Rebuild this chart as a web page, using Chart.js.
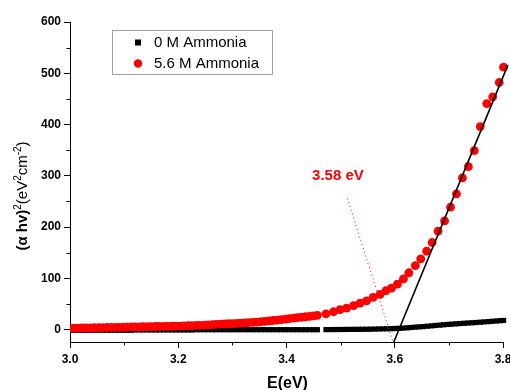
<!DOCTYPE html>
<html>
<head>
<meta charset="utf-8">
<script src="https://cdn.jsdelivr.net/npm/chart.js@4/dist/chart.umd.min.js"></script>
<style>
html,body{margin:0;padding:0;background:#fff;}
#c{display:block;}
</style>
</head>
<body>
<canvas id="c" width="510" height="390"></canvas>
<script>
// Photon energy (eV) for 5.6 M Ammonia
const E_RED = [
  3.000,3.008,3.015,3.023,3.030,3.038,3.045,3.053,3.060,3.068,
  3.075,3.083,3.090,3.098,3.105,3.113,3.120,3.128,3.135,3.143,
  3.150,3.158,3.165,3.173,3.180,3.188,3.195,3.203,3.210,3.218,
  3.225,3.233,3.240,3.248,3.255,3.263,3.270,3.278,3.285,3.293,
  3.300,3.308,3.315,3.323,3.330,3.338,3.345,3.353,3.360,3.368,
  3.375,3.383,3.390,3.398,3.405,3.413,3.420,3.428,3.435,3.443,
  3.450,3.457,
  3.473,3.487,3.499,3.511,3.524,3.536,3.548,3.560,3.573,3.584,
  3.594,3.605,3.616,3.626,3.638,3.648,3.659,3.669,3.680,3.692,
  3.703,3.714,3.725,3.736,3.747,3.758,3.770,3.781,3.793,3.801
];
// (alpha h nu)^2 for 5.6 M Ammonia
const RED = [
  3.0,3.1,3.2,3.4,3.5,3.7,3.8,4.0,4.1,4.3,
  4.4,4.6,4.7,4.9,5.1,5.3,5.4,5.6,5.7,5.9,
  6.0,6.2,6.3,6.5,6.6,6.8,6.9,7.1,7.4,7.7,
  8.0,8.3,8.6,8.9,9.3,9.8,10.2,10.7,11.1,11.6,
  12.0,12.5,12.9,13.4,13.8,14.3,14.8,15.5,16.2,17.0,
  17.9,18.8,19.8,20.7,21.6,22.6,23.4,24.3,25.2,26.1,
  27.0,28.0,
  31,35,39,42,47,52,56,63,69,76,
  81,89,99,111,125,138,153,170,192,212,
  239,265,296,318,349,396,441,454,482,512
];
// Photon energy (eV) for 0 M Ammonia
const E_BLACK = [
  3.000,3.008,3.015,3.023,3.030,3.038,3.045,3.053,3.060,3.068,
  3.075,3.083,3.090,3.098,3.105,3.113,3.120,3.128,3.135,3.143,
  3.150,3.158,3.165,3.173,3.180,3.188,3.195,3.203,3.210,3.218,
  3.225,3.233,3.240,3.248,3.255,3.263,3.270,3.278,3.285,3.293,
  3.300,3.308,3.315,3.323,3.330,3.338,3.345,3.353,3.360,3.368,
  3.375,3.383,3.390,3.398,3.405,3.413,3.420,3.428,3.435,3.443,
  3.450,3.457,
  3.473,3.480,3.488,3.495,3.503,3.510,3.518,3.525,3.533,3.540,
  3.548,3.555,3.563,3.570,3.578,3.585,3.593,3.600,3.608,3.615,
  3.623,3.630,3.638,3.645,3.653,3.660,3.668,3.675,3.683,3.690,
  3.698,3.705,3.713,3.720,3.728,3.735,3.743,3.750,3.758,3.765,
  3.773,3.780,3.788,3.795,3.801
];
// (alpha h nu)^2 for 0 M Ammonia
const BLACK = [
  -1,-1,-1,-1,-1,-1,-1,-1,-1,-1,
  -1,-1,-1,-1,-1,-1,-0.5,-0.5,-0.5,-0.5,
  -0.5,-0.5,-0.5,-0.5,-0.5,-0.5,-0.5,-0.5,-0.5,-0.5,
  -0.5,0,0,0,0,0,0,0,0,0,
  0,0,0,0,0,0,0,0,0,0,
  0,0,0,0,0,0,0,0,0,0,
  0,0,
  0.2,0.25,0.3,0.35,0.4,0.5,0.55,0.6,0.7,0.8,
  0.9,1.0,1.2,1.4,1.6,1.8,2.0,2.3,2.7,3.1,
  3.7,4.3,5.0,5.5,6.1,6.8,7.5,8.2,8.9,9.6,
  10.2,10.8,11.4,12.0,12.5,13.0,13.5,14.0,14.6,15.2,
  15.8,16.4,17.0,17.6,18.0
];
const SERIES_LABELS = ["0 M Ammonia", "5.6 M Ammonia"];
// Linear fit (Tauc extrapolation) end points
const FIT_X = [3.5975, 3.809];
const FIT_Y = [-26, 516];
// Dotted pointer from label to axis
const POINTER_X = [3.5125, 3.5975];
const POINTER_Y = [256, -26];
const ANNOT_TEXT = "3.58 eV";
const ANNOT_POS = [3.495, 300];
const X_TICKS = [3.0, 3.2, 3.4, 3.6, 3.8];
const X_MINOR = [3.1, 3.3, 3.5, 3.7];
const Y_TICKS = [0, 100, 200, 300, 400, 500, 600];
const Y_MINOR = [50, 150, 250, 350, 450, 550];

const FONT = "'Liberation Sans', Arial, sans-serif";

const pts = (xs, ys) => xs.map((x, i) => ({x: x, y: ys[i]}));

const extras = {
  id: 'extras',
  afterDraw(chart) {
    const ctx = chart.ctx;
    const xs = chart.scales.x, ys = chart.scales.y;
    const ca = chart.chartArea;
    ctx.save();
    // minor ticks
    ctx.strokeStyle = '#000';
    ctx.lineWidth = 1;
    ctx.beginPath();
    Y_MINOR.forEach(v => {
      const py = Math.round(ys.getPixelForValue(v)) + 0.5;
      ctx.moveTo(ca.left - 3.5, py);
      ctx.lineTo(ca.left, py);
    });
    X_MINOR.forEach(v => {
      const px = Math.round(xs.getPixelForValue(v)) + 0.5;
      ctx.moveTo(px, ca.bottom);
      ctx.lineTo(px, ca.bottom + 3.5);
    });
    ctx.stroke();

    // annotation label
    ctx.fillStyle = '#ff0000';
    ctx.font = "bold 15px " + FONT;
    ctx.textAlign = 'center';
    ctx.textBaseline = 'middle';
    ctx.fillText(ANNOT_TEXT, xs.getPixelForValue(ANNOT_POS[0]), ys.getPixelForValue(ANNOT_POS[1]));

    // x title
    ctx.fillStyle = '#000';
    ctx.font = "bold 16px " + FONT;
    ctx.fillText("E(eV)", 287.5, 383.5);

    // y title with mixed weights and superscripts
    const parts = [
      {t: "(\u03B1 hv)", f: "bold 15px " + FONT, dy: 0},
      {t: "2", f: "10px " + FONT, dy: -6},
      {t: "(eV", f: "15px " + FONT, dy: 0},
      {t: "2", f: "10px " + FONT, dy: -6},
      {t: "cm", f: "15px " + FONT, dy: 0},
      {t: "-2", f: "10px " + FONT, dy: -6},
      {t: ")", f: "15px " + FONT, dy: 0}
    ];
    let total = 0;
    parts.forEach(p => { ctx.font = p.f; p.w = ctx.measureText(p.t).width; total += p.w; });
    ctx.translate(27, 196);
    ctx.rotate(-Math.PI / 2);
    ctx.textAlign = 'left';
    ctx.textBaseline = 'alphabetic';
    let cx = -total / 2;
    parts.forEach(p => { ctx.font = p.f; ctx.fillText(p.t, cx, p.dy); cx += p.w; });
    ctx.setTransform(1, 0, 0, 1, 0, 0);

    // legend
    ctx.strokeStyle = '#a0a0a0';
    ctx.lineWidth = 1;
    ctx.strokeRect(112.5, 30.5, 160, 44);
    ctx.fillStyle = '#000';
    ctx.fillRect(135, 39.5, 6, 6);
    ctx.fillStyle = '#ff0000';
    ctx.beginPath();
    ctx.arc(138, 63.5, 4.2, 0, Math.PI * 2);
    ctx.fill();
    ctx.fillStyle = '#000';
    ctx.font = "15px " + FONT;
    ctx.textAlign = 'left';
    ctx.textBaseline = 'middle';
    ctx.fillText(SERIES_LABELS[0], 154, 43);
    ctx.fillText(SERIES_LABELS[1], 154, 63.5);
    ctx.restore();
  }
};

new Chart(document.getElementById('c'), {
  type: 'scatter',
  data: {
    datasets: [
      {
        label: "fit",
        data: pts(FIT_X, FIT_Y),
        showLine: true,
        borderColor: '#000',
        borderWidth: 1.6,
        pointRadius: 0,
        order: 0,
        clip: {left: 0, top: 0, right: 10, bottom: 2}
      },
      {
        label: "pointer",
        data: pts(POINTER_X, POINTER_Y),
        showLine: true,
        borderColor: '#ff0000',
        borderWidth: 1,
        borderDash: [1, 3],
        pointRadius: 0,
        order: 1,
        clip: {left: 0, top: 0, right: 0, bottom: 2}
      },
      {
        label: SERIES_LABELS[1],
        data: pts(E_RED, RED),
        backgroundColor: '#ff0000',
        borderColor: '#ff0000',
        borderWidth: 0,
        pointStyle: 'circle',
        pointRadius: 4.4,
        order: 2,
        clip: {left: 0, top: 0, right: 10, bottom: 0}
      },
      {
        label: SERIES_LABELS[0],
        data: pts(E_BLACK, BLACK),
        backgroundColor: '#000',
        borderColor: '#000',
        borderWidth: 0,
        pointStyle: 'rect',
        pointRadius: 3.7,
        order: 3,
        clip: {left: 0, top: 0, right: 10, bottom: 0}
      }
    ]
  },
  options: {
    responsive: false,
    animation: false,
    events: [],
    layout: {padding: {top: 22, right: 7, left: 0, bottom: 0}},
    plugins: {legend: {display: false}, tooltip: {enabled: false}},
    scales: {
      x: {
        type: 'linear',
        min: 3.0,
        max: 3.8,
        afterBuildTicks: s => { s.ticks = X_TICKS.map(v => ({value: v})); },
        afterFit: s => { s.height = 48; s.paddingLeft = 0; s.paddingRight = 0; },
        grid: {drawOnChartArea: false, drawTicks: true, tickLength: 6, tickColor: '#000', tickWidth: 1},
        border: {display: true, color: '#000', width: 1},
        ticks: {
          color: '#000',
          font: {family: FONT, size: 12, weight: 'bold'},
          padding: 4,
          maxRotation: 0,
          autoSkip: false,
          callback: v => Number(v).toFixed(1)
        }
      },
      y: {
        type: 'linear',
        min: -24,
        max: 600,
        afterBuildTicks: s => { s.ticks = Y_TICKS.map(v => ({value: v})); },
        afterFit: s => { s.width = 70; s.paddingTop = 0; s.paddingBottom = 0; },
        grid: {drawOnChartArea: false, drawTicks: true, tickLength: 6, tickColor: '#000', tickWidth: 1},
        border: {display: true, color: '#000', width: 1},
        ticks: {
          color: '#000',
          font: {family: FONT, size: 12, weight: 'bold'},
          padding: 3,
          autoSkip: false,
          callback: v => String(v)
        }
      }
    }
  },
  plugins: [extras]
});
</script>
</body>
</html>
